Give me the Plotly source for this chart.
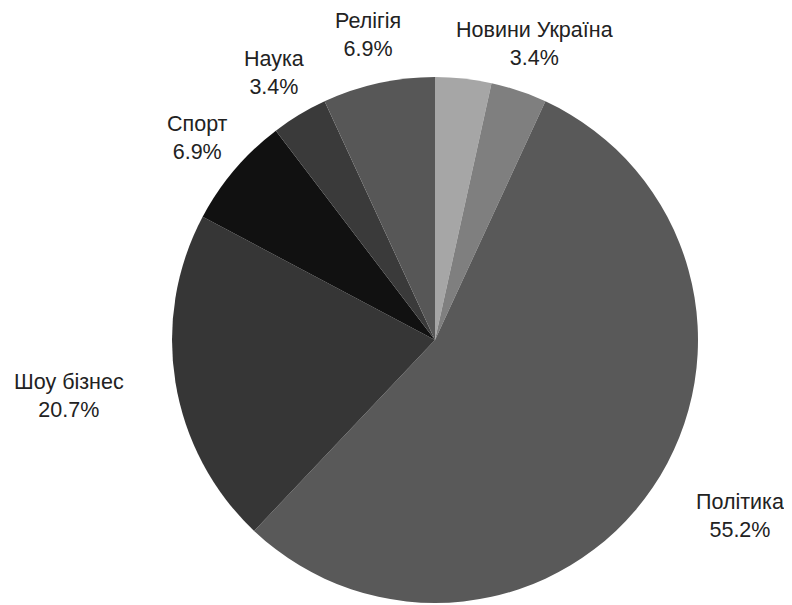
import math
import plotly.graph_objects as go

# ---- data ----
categories = [" ", "Новини Україна", "Політика", "Шоу бізнес", "Спорт", "Наука", "Релігія"]
values = [1, 1, 16, 6, 2, 1, 2]
show_label = [False, True, True, True, True, True, True]
colors = ["#a6a6a6", "#7f7f7f", "#595959", "#363636", "#111111", "#3a3a3a", "#575757"]

# ---- layout geometry (pixels, in screenshot coordinates) ----
W, H = 792, 605
OFF = 8  # default page body margin
cx, cy, r = 435, 340, 263
R_TOP, R_SIDE = 312, 313
FS = 21.5
FONT = dict(family="Liberation Sans, Arial, sans-serif", size=FS, color="#222222")


def px_x(x):
    return (x - OFF) / W


def px_y(y):
    return 1 - (y - OFF) / H


dom_x = [px_x(cx - r), px_x(cx + r)]
dom_y = [px_y(cy + r), px_y(cy - r)]

fig = go.Figure(go.Pie(
    labels=categories,
    values=values,
    sort=False,
    direction="clockwise",
    rotation=0,
    marker=dict(colors=colors, line=dict(width=0)),
    textinfo="none",
    hoverinfo="label+percent",
    domain=dict(x=dom_x, y=dom_y),
    showlegend=False,
))

total = sum(values)
annotations = []
cum = 0
for name, v, show in zip(categories, values, show_label):
    mid = (cum + v / 2) / total * 2 * math.pi
    cum += v
    if not show:
        continue
    dx, dy = math.sin(mid), -math.cos(mid)
    pct = f"{100 * v / total:.1f}%"
    if abs(dx) > 0.8:
        ax = cx + R_SIDE * dx
        bcy = cy + R_SIDE * dy + (5 if dx < 0 else 0)
        xanchor = "left" if dx > 0 else "right"
    else:
        ax = cx + R_TOP * dx
        bcy = cy + R_TOP * dy
        xanchor = "center"
    annotations.append(dict(
        x=px_x(ax), y=px_y(bcy), xref="paper", yref="paper",
        text=f"{name}<br>{pct}", showarrow=False,
        xanchor=xanchor, yanchor="middle", align="center", font=FONT,
    ))

fig.update_layout(
    width=W, height=H,
    margin=dict(l=0, r=0, t=0, b=0),
    paper_bgcolor="white", plot_bgcolor="white",
    annotations=annotations,
)

fig.write_html("out.html")
